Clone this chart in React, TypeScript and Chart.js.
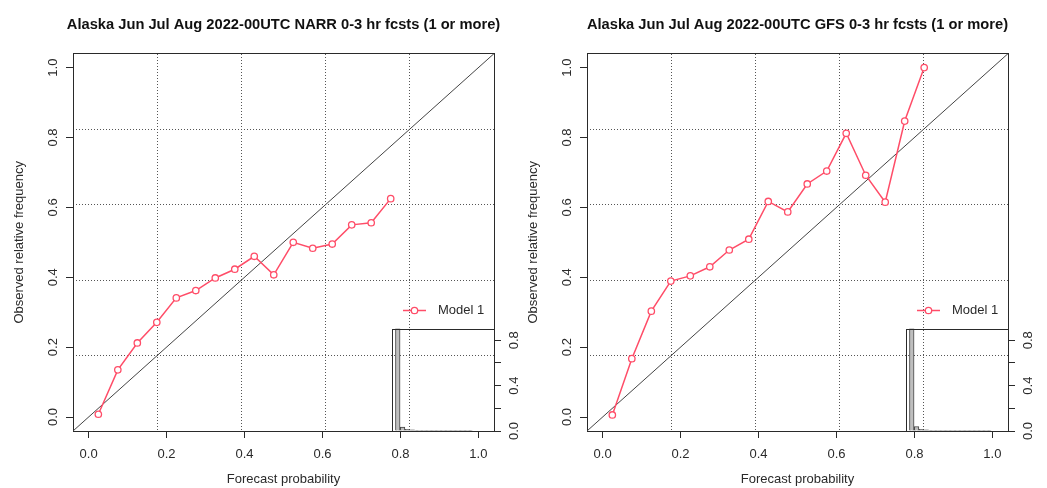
import React, { useEffect, useRef } from 'react';
import { Chart, registerables } from 'chart.js';

Chart.register(...registerables);

// ---------- data ----------
const forecastBins = [0.025, 0.075, 0.125, 0.175, 0.225, 0.275, 0.325, 0.375, 0.425, 0.475, 0.525, 0.575, 0.625, 0.675, 0.725, 0.775, 0.825];
const narrObserved = [0.008, 0.135, 0.212, 0.271, 0.341, 0.362, 0.398, 0.423, 0.46, 0.407, 0.5, 0.483, 0.495, 0.55, 0.556, 0.625];
const gfsObserved = [0.006, 0.167, 0.303, 0.389, 0.404, 0.43, 0.478, 0.509, 0.617, 0.587, 0.667, 0.704, 0.812, 0.692, 0.615, 0.847, 1.0];
const narrHist = [0.9, 0.035, 0.015, 0.01, 0.007, 0.005, 0.004, 0.003, 0.003, 0.002, 0.002, 0.001, 0.001, 0.001, 0.001, 0.001];
const gfsHist = [0.9, 0.04, 0.015, 0.01, 0.006, 0.005, 0.004, 0.003, 0.002, 0.002, 0.002, 0.001, 0.001, 0.001, 0.001, 0.001, 0.001];
const axisTicks = [0, 0.2, 0.4, 0.6, 0.8, 1.0];
const axisTickLabels = ['0.0', '0.2', '0.4', '0.6', '0.8', '1.0'];
const insetTicks = [0, 0.2, 0.4, 0.6, 0.8];
const insetTickLabels = ['0.0', '', '0.4', '', '0.8'];
const perfectReliability = [-0.04, 1.04];
const seriesName = 'Model 1';
const narrTitle = 'Alaska Jun Jul Aug 2022-00UTC NARR 0-3 hr fcsts (1 or more)';
const gfsTitle = 'Alaska Jun Jul Aug 2022-00UTC GFS 0-3 hr fcsts (1 or more)';
const xTitle = 'Forecast probability';
const yTitle = 'Observed relative frequency';

// ---------- layout / style ----------
const W = 523;
const H = 488;
const PAD_L = 44;
const AX_LO = -0.04;
const AX_HI = 1.04;
const INSET_LO = -0.035;
const INSET_HI = 1.025;
const INSET_W_FRAC = 0.2423;
const INSET_H_FRAC = 0.2706;
const FONT = '"Liberation Sans", Arial, Helvetica, sans-serif';
const INK = '#2a2a2a';
const GRID = '#555555';
const RED = '#ff4d68';

const gridVals = [1, 2, 3, 4].map((k) => AX_LO + (k * (AX_HI - AX_LO)) / 5);
const setTicks = (vals: number[], lo: number, hi: number) => (scale: any) => {
  scale.min = lo;
  scale.max = hi;
  scale.ticks = vals.map((v) => ({ value: v }));
};

const overlayPlugin = {
  id: 'relOverlay',
  afterDatasetsDraw(chart: any) {
    const { ctx, chartArea: a, scales } = chart;
    const insetMax = chart.$insetTop as number;
    // inset frame
    const left = scales.x3.getPixelForValue(INSET_LO);
    const top = scales.y2.getPixelForValue(insetMax);
    ctx.save();
    ctx.strokeStyle = INK;
    ctx.lineWidth = 1;
    ctx.strokeRect(Math.round(left) + 0.5, Math.round(top) + 0.5, Math.round(a.right - left), Math.round(a.bottom - top));
    // legend
    const ly = Math.round(a.top + (a.bottom - a.top) * 0.679) + 0.5;
    const lx0 = a.right - 91;
    const lx1 = a.right - 68;
    ctx.strokeStyle = RED;
    ctx.lineWidth = 1.5;
    ctx.beginPath();
    ctx.moveTo(lx0, ly);
    ctx.lineTo(lx1, ly);
    ctx.stroke();
    ctx.beginPath();
    ctx.fillStyle = '#ffffff';
    ctx.lineWidth = 1.3;
    ctx.arc((lx0 + lx1) / 2, ly, 3.2, 0, Math.PI * 2);
    ctx.fill();
    ctx.stroke();
    ctx.fillStyle = INK;
    ctx.font = `13px ${FONT}`;
    ctx.textBaseline = 'middle';
    ctx.textAlign = 'left';
    ctx.fillText(chart.data.datasets[0].label, a.right - 56, ly);
    ctx.restore();
  },
};

function Panel({ title, observed, hist, left }: { title: string; observed: number[]; hist: number[]; left: number }) {
  const ref = useRef<HTMLCanvasElement | null>(null);
  useEffect(() => {
    const canvas = ref.current;
    if (!canvas) return;
    const xs = forecastBins.slice(0, observed.length);
    const insetTop = Math.max(...hist);
    const y2Max = insetTop / INSET_H_FRAC;
    const x3Min = INSET_HI - (INSET_HI - INSET_LO) / INSET_W_FRAC;
    const tickFont = { family: FONT, size: 13 };
    const chart: any = new Chart(canvas, {
      type: 'line',
      data: {
        datasets: [
          {
            label: seriesName,
            data: xs.map((x, i) => ({ x, y: observed[i] })),
            xAxisID: 'x',
            yAxisID: 'y',
            borderColor: RED,
            borderWidth: 1.5,
            pointRadius: 3.2,
            pointBorderWidth: 1.3,
            pointBackgroundColor: '#ffffff',
            pointBorderColor: RED,
            tension: 0,
          },
          {
            label: 'perfect',
            data: perfectReliability.map((v) => ({ x: v, y: v })),
            xAxisID: 'x',
            yAxisID: 'y',
            borderColor: '#444444',
            borderWidth: 1,
            pointRadius: 0,
          },
          {
            type: 'bar',
            label: 'frequency',
            data: xs.map((x, i) => ({ x, y: hist[i] })),
            xAxisID: 'x3',
            yAxisID: 'y2',
            backgroundColor: '#bebebe',
            borderColor: '#444444',
            borderWidth: 1,
            barThickness: 4.6,
            grouped: false,
          } as any,
        ],
      },
      options: {
        responsive: false,
        animation: false,
        layout: { padding: { left: PAD_L, right: 0, top: 0, bottom: 0 } },
        plugins: {
          legend: { display: false },
          tooltip: { enabled: false },
          title: {
            display: true,
            text: title,
            fullSize: true,
            color: '#111111',
            font: { family: FONT, size: 14.7, weight: 'bold' },
            padding: { top: 16, bottom: 20 },
          },
        },
        scales: {
          x: {
            type: 'linear',
            position: 'bottom',
            offset: false,
            min: AX_LO,
            max: AX_HI,
            afterBuildTicks: setTicks(axisTicks, AX_LO, AX_HI),
            afterFit: (s: any) => {
              s.height = 57;
            },
            ticks: {
              callback: (_v: any, i: number) => axisTickLabels[i],
              maxRotation: 0,
              autoSkip: false,
              padding: 9,
              color: INK,
              font: tickFont,
            },
            grid: { display: true, offset: false, drawOnChartArea: false, drawTicks: true, tickLength: 7, color: INK, lineWidth: 1 },
            border: { display: true, color: INK, width: 1 },
            title: { display: true, text: xTitle, color: INK, font: tickFont, padding: { top: 0, bottom: 1 } },
          },
          xg: {
            type: 'linear',
            position: 'top',
            offset: false,
            min: AX_LO,
            max: AX_HI,
            afterBuildTicks: setTicks(gridVals, AX_LO, AX_HI),
            afterFit: (s: any) => {
              s.height = 0;
            },
            ticks: { display: false },
            grid: { display: true, offset: false, drawTicks: false, tickLength: 0, color: GRID, lineWidth: 1 },
            border: { display: true, color: INK, width: 1, dash: [1, 2] },
          },
          y: {
            type: 'linear',
            position: 'left',
            min: AX_LO,
            max: AX_HI,
            afterBuildTicks: setTicks(axisTicks, AX_LO, AX_HI),
            afterFit: (s: any) => {
              s.width = 73 - PAD_L;
            },
            ticks: {
              callback: (_v: any, i: number) => axisTickLabels[i],
              minRotation: 90,
              maxRotation: 90,
              crossAlign: 'center',
              autoSkip: false,
              padding: 4,
              color: INK,
              font: tickFont,
            },
            grid: { display: true, drawOnChartArea: false, drawTicks: true, tickLength: 7, color: INK, lineWidth: 1 },
            border: { display: true, color: INK, width: 1 },
            title: { display: true, text: yTitle, color: INK, font: tickFont, padding: { top: 12 - PAD_L, bottom: 0 } },
          },
          yg: {
            type: 'linear',
            position: 'left',
            min: AX_LO,
            max: AX_HI,
            afterBuildTicks: setTicks(gridVals, AX_LO, AX_HI),
            afterFit: (s: any) => {
              s.width = 0;
            },
            ticks: { display: false },
            grid: { display: true, drawTicks: false, tickLength: 0, color: GRID, lineWidth: 1 },
            border: { display: false, dash: [1, 2] },
          },
          y2: {
            type: 'linear',
            position: 'right',
            min: 0,
            max: y2Max,
            afterBuildTicks: setTicks(insetTicks, 0, y2Max),
            afterFit: (s: any) => {
              s.width = 29;
            },
            ticks: {
              callback: (_v: any, i: number) => insetTickLabels[i],
              minRotation: 90,
              maxRotation: 90,
              crossAlign: 'center',
              autoSkip: false,
              padding: 4,
              color: INK,
              font: tickFont,
            },
            grid: { display: true, drawOnChartArea: false, drawTicks: true, tickLength: 7, color: INK, lineWidth: 1 },
            border: { display: true, color: INK, width: 1 },
          },
          x3: {
            type: 'linear',
            display: false,
            offset: false,
            bounds: 'data',
            min: x3Min,
            max: INSET_HI,
            grid: { offset: false },
            afterBuildTicks: setTicks(xs, x3Min, INSET_HI),
          },
        },
      } as any,
      plugins: [overlayPlugin],
    });
    chart.$insetTop = insetTop;
    chart.update();
    return () => chart.destroy();
  }, [title, observed, hist]);
  return (
    <canvas
      ref={ref}
      width={W}
      height={H}
      style={{ position: 'absolute', left, top: 0, width: W, height: H }}
    />
  );
}

export default function App() {
  return (
    <div style={{ position: 'fixed', left: 0, top: 0, width: 1047, height: 488, background: '#ffffff', overflow: 'hidden' }}>
      <Panel title={narrTitle} observed={narrObserved} hist={narrHist} left={0} />
      <Panel title={gfsTitle} observed={gfsObserved} hist={gfsHist} left={514} />
    </div>
  );
}
